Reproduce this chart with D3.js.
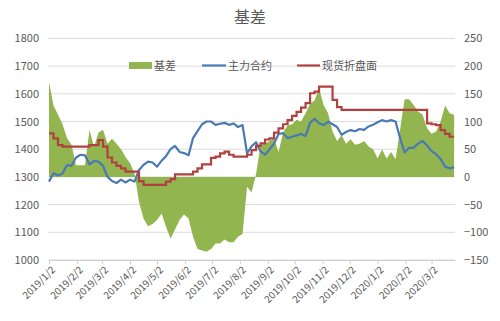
<!DOCTYPE html>
<html><head><meta charset="utf-8">
<script src="https://cdn.jsdelivr.net/npm/d3@7"></script>
<style>
body{margin:0;background:#fff}
text{font-family:"Noto Sans CJK SC","Noto Sans",sans-serif}
</style>
</head><body><svg id="c" width="500" height="321"></svg>
<script>
const dates=["2019-01-02","2019-01-07","2019-01-12","2019-01-17","2019-01-22","2019-01-27",
"2019-02-01","2019-02-06","2019-02-11","2019-02-16","2019-02-21","2019-02-26",
"2019-03-03","2019-03-08","2019-03-13","2019-03-18","2019-03-23","2019-03-28",
"2019-04-02","2019-04-07","2019-04-12","2019-04-17","2019-04-22","2019-04-27",
"2019-05-02","2019-05-07","2019-05-12","2019-05-17","2019-05-22","2019-05-27",
"2019-06-01","2019-06-06","2019-06-11","2019-06-16","2019-06-21","2019-06-26",
"2019-07-01","2019-07-06","2019-07-11","2019-07-16","2019-07-21","2019-07-26","2019-07-31",
"2019-08-05","2019-08-10","2019-08-15","2019-08-20","2019-08-25","2019-08-30",
"2019-09-04","2019-09-09","2019-09-14","2019-09-19","2019-09-24","2019-09-29",
"2019-10-04","2019-10-09","2019-10-14","2019-10-19","2019-10-24","2019-10-29",
"2019-11-03","2019-11-08","2019-11-13","2019-11-18","2019-11-23","2019-11-28",
"2019-12-03","2019-12-08","2019-12-13","2019-12-18","2019-12-23","2019-12-28",
"2020-01-02","2020-01-07","2020-01-12","2020-01-17","2020-01-22","2020-01-27",
"2020-02-01","2020-02-06","2020-02-11","2020-02-16","2020-02-21","2020-02-26",
"2020-03-02","2020-03-07","2020-03-12","2020-03-17","2020-03-22","2020-03-27"];

const futures=[1283,1313,1305,1312,1343,1340,1370,1380,1378,1345,1358,1355,
1340,1300,1285,1278,1290,1280,1290,1283,1325,1343,1355,1352,
1337,1358,1375,1400,1412,1390,1386,1378,1440,1465,1490,1500,
1500,1488,1492,1495,1488,1493,1480,1487,1385,1410,1425,1392,1380,
1400,1420,1455,1458,1440,1445,1450,1455,1448,1495,1510,1494,
1487,1499,1490,1480,1452,1462,1469,1465,1473,1470,1482,1488,
1497,1505,1500,1505,1500,1440,1388,1405,1405,1420,1430,1413,
1393,1382,1365,1337,1331,1335];

const spot=[1457,1439,1415,1409,1409,1409,1409,1409,1409,1415,1415,1433,
1409,1370,1352,1340,1331,1319,1319,1319,1285,1271,1271,1271,
1271,1271,1283,1292,1309,1309,1309,1309,1319,1331,1345,1345,
1369,1373,1385,1391,1380,1373,1373,1373,1380,1397,1412,1421,1435,
1439,1460,1475,1490,1505,1520,1535,1550,1566,1602,1608,1626,
1626,1626,1578,1552,1542,1542,1542,1542,1542,1542,1542,1542,
1542,1542,1542,1542,1542,1542,1542,1542,1542,1542,1542,1493,
1490,1487,1469,1455,1445,1445];

const basis=[171,129,112,95,70,58,21,21,21,85,54,80,
85,60,69,60,50,36,25,6,-45,-75,-89,-85,
-78,-66,-90,-111,-95,-78,-68,-75,-108,-130,-133,-135,
-130,-120,-120,-113,-118,-118,-108,-103,-18,-28,5,57,60,
65,69,45,80,93,95,103,100,115,132,138,160,
130,115,82,65,75,60,68,58,60,65,55,50,
33,50,33,45,32,85,140,140,130,118,112,88,
78,82,100,129,115,112];

const leftTicks=[1000,1100,1200,1300,1400,1500,1600,1700,1800];
const rightTicks=[-150,-100,-50,0,50,100,150,200,250];
const xTickLabels=["2019/1/2","2019/2/2","2019/3/2","2019/4/2","2019/5/2","2019/6/2","2019/7/2",
"2019/8/2","2019/9/2","2019/10/2","2019/11/2","2019/12/2","2020/1/2","2020/2/2","2020/3/2"];
const seriesNames=["基差","主力合约","现货折盘面"];
const title="基差";

const parse=d3.timeParse("%Y-%m-%d");
const parseTick=d3.timeParse("%Y/%m/%d");
const rows=dates.map((d,i)=>({date:parse(d),f:futures[i],s:spot[i],b:basis[i]}));

const svg=d3.select("#c");
const x=d3.scaleTime().domain([parse("2019-01-02"),parse("2020-03-28")]).range([49,455]);
const yL=d3.scaleLinear().domain([1000,1800]).range([260,38.4]);
const yR=d3.scaleLinear().domain([-150,250]).range([260,38.4]);

const grey="#595959";
// gridlines
svg.append("g").selectAll("line").data(leftTicks).join("line")
  .attr("x1",48).attr("x2",455).attr("y1",d=>yL(d)).attr("y2",d=>yL(d))
  .attr("stroke","#dcdcdc").attr("stroke-width",1);

// left axis
const gl=svg.append("g").attr("transform","translate(48,0)")
  .call(d3.axisLeft(yL).tickValues(leftTicks).tickFormat(d3.format("d")).tickSize(0).tickPadding(9));
gl.select(".domain").remove();
gl.selectAll("text").attr("fill",grey).attr("font-size",11);

// right axis
const gr=svg.append("g").attr("transform","translate(455,0)")
  .call(d3.axisRight(yR).tickValues(rightTicks).tickFormat(d3.format("d")).tickSize(0).tickPadding(9));
gr.select(".domain").remove();
gr.selectAll("text").attr("fill",grey).attr("font-size",11);

// basis area
svg.append("path").datum(rows)
  .attr("d",d3.area().x(d=>x(d.date)).y0(yR(0)).y1(d=>yR(d.b)))
  .attr("fill","#92b54f");

// x axis
const tickDates=xTickLabels.map(parseTick);
const gx=svg.append("g").attr("transform","translate(0,260)")
  .call(d3.axisBottom(x).tickValues(tickDates).tickFormat((d,i)=>xTickLabels[i]).tickSize(4).tickSizeOuter(0));
gx.select(".domain").attr("stroke","#d0d0d0");
gx.selectAll(".tick line").attr("stroke","#d0d0d0");
gx.selectAll("text").attr("fill",grey).attr("font-size",10)
  .attr("text-anchor","end").attr("transform","rotate(-45)")
  .attr("dx","-0.3em").attr("dy","0.5em");

// futures line
svg.append("path").datum(rows)
  .attr("d",d3.line().x(d=>x(d.date)).y(d=>yL(d.f)))
  .attr("fill","none").attr("stroke","#4a79b4").attr("stroke-width",2.2).attr("stroke-linejoin","round");

// spot step line
svg.append("path").datum(rows)
  .attr("d",d3.line().curve(d3.curveStepAfter).x(d=>x(d.date)).y(d=>yL(d.s)))
  .attr("fill","none").attr("stroke","#b0413e").attr("stroke-width",2.2);

// title
svg.append("text").attr("x",250).attr("y",23).attr("text-anchor","middle")
  .attr("font-size",16).attr("fill",grey).text(title);

// legend
const lg=svg.append("g");
lg.append("rect").attr("x",129).attr("y",62).attr("width",23).attr("height",7).attr("fill","#92b54f");
lg.append("text").attr("x",154).attr("y",69.5).attr("font-size",11).attr("fill",grey).text(seriesNames[0]);
lg.append("line").attr("x1",202).attr("x2",226).attr("y1",65.5).attr("y2",65.5).attr("stroke","#4a79b4").attr("stroke-width",2.2);
lg.append("text").attr("x",228).attr("y",69.5).attr("font-size",11).attr("fill",grey).text(seriesNames[1]);
lg.append("line").attr("x1",297).attr("x2",320).attr("y1",65.5).attr("y2",65.5).attr("stroke","#b0413e").attr("stroke-width",2.2);
lg.append("text").attr("x",322).attr("y",69.5).attr("font-size",11).attr("fill",grey).text(seriesNames[2]);
</script></body></html>
